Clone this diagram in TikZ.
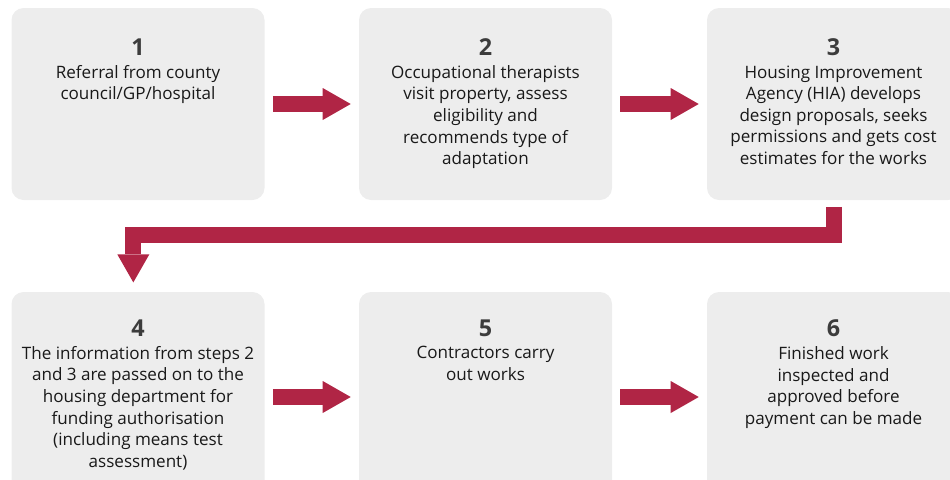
\documentclass[tikz,border=0pt]{standalone}
\usepackage{fontspec}
\setmainfont{Open Sans}
\usepackage{xcolor}
\usepackage{tikz}
\usetikzlibrary{positioning,arrows.meta}

\definecolor{boxgray}{RGB}{237,237,237}
\definecolor{flowred}{RGB}{176,37,69}
\definecolor{numgray}{RGB}{60,60,60}

\begin{document}
\begin{tikzpicture}[x=0.75pt,y=-0.75pt,
    stepbox/.style={fill=boxgray,rounded corners=9pt,inner sep=0pt,
      minimum width=189.75pt,minimum height=144pt},
    tallbox/.style={stepbox,minimum height=157.5pt},
    num/.style={anchor=base,inner sep=0pt,text=numgray,
      font=\fontsize{17.5pt}{17.5pt}\selectfont\bfseries},
    txt/.style={below=7.3pt of #1,inner sep=0pt,align=center,text=black!90,
      font=\fontsize{12.8pt}{16.2pt}\selectfont},
    flow/.style={draw=flowred,line width=12pt,
      -{Triangle[length=21pt,width=24pt,line width=0pt]},
      shorten <=6pt,shorten >=6pt}]
  \useasboundingbox (0,0) rectangle (950,479);
  \clip (0,0) rectangle (950,479);

  % top row
  \node[stepbox] (b1) at (138,104) {};
  \node[stepbox] (b2) at (485.5,104) {};
  \node[stepbox] (b3) at (833.5,104) {};
  % bottom row
  \node[tallbox] (b4) at (138,397) {};
  \node[tallbox] (b5) at (485.5,397) {};
  \node[tallbox] (b6) at (833.5,397) {};

  \node[num] (n1) at (138,55) {1};
  \node[num] (n2) at (485.5,55) {2};
  \node[num] (n3) at (833.5,55) {3};
  \node[num] (n4) at (138,336) {4};
  \node[num] (n5) at (485.5,336) {5};
  \node[num] (n6) at (833.5,336) {6};

  \node[txt=n1] (t1) {Referral from county\\council/GP/hospital};
  \node[txt=n2] (t2) {Occupational therapists\\visit property, assess\\eligibility and\\recommends type of\\adaptation};
  \node[txt=n3] (t3) {Housing Improvement\\Agency (HIA) develops\\design proposals, seeks\\permissions and gets cost\\estimates for the works};
  \node[txt=n4] (t4) {The information from steps 2\\and 3 are passed on to the\\housing department for\\funding authorisation\\(including means test\\assessment)};
  \node[txt=n5] (t5) {Contractors carry\\out works};
  \node[txt=n6] (t6) {Finished work\\inspected and\\approved before\\payment can be made};

  % connectors
  \draw[flow] (b1) -- (b2);
  \draw[flow] (b2) -- (b3);
  \draw[flow] (b4) -- (b5);
  \draw[flow] (b5) -- (b6);
  \draw[flow,shorten <=5pt,shorten >=7pt] (b3.south) -- ++(0,35) -| ([xshift=-3.5pt]b4.north);
\end{tikzpicture}
\end{document}
